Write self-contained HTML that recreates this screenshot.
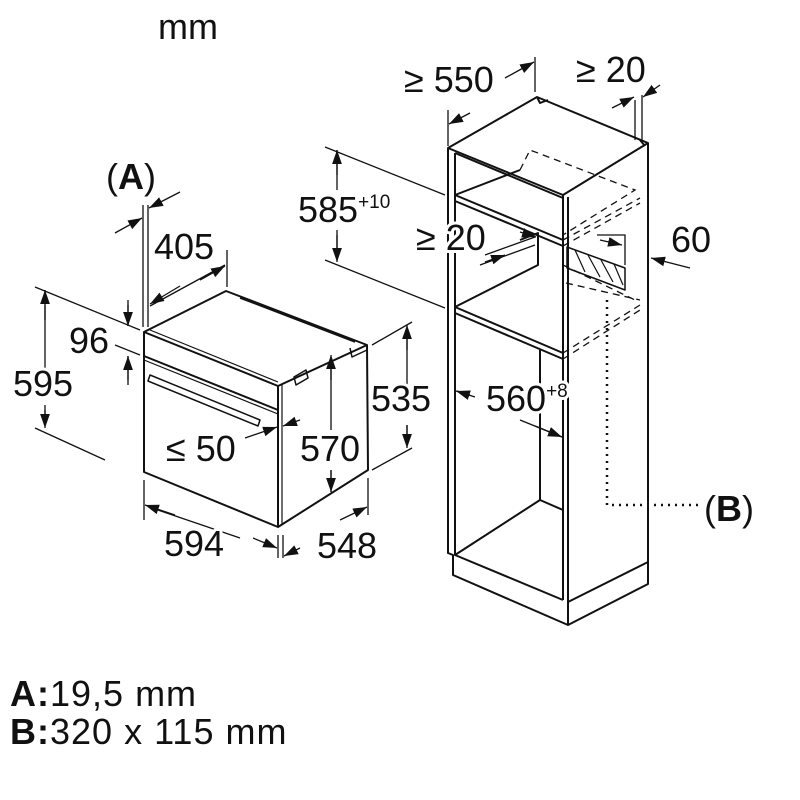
<!DOCTYPE html>
<html><head><meta charset="utf-8"><style>
html,body{margin:0;padding:0;background:#fff}
svg{display:block}
text{font-family:"Liberation Sans",Arial,sans-serif;fill:#111}
</style></head><body>
<svg width="800" height="800" viewBox="0 0 800 800" xmlns="http://www.w3.org/2000/svg">
<defs>
<marker id="b" viewBox="0 0 10 10" refX="10" refY="5" markerWidth="14" markerHeight="14" orient="auto-start-reverse" markerUnits="userSpaceOnUse"><path d="M0,1.5 L10,5 L0,8.5 z" fill="#111"/></marker>
</defs>
<g fill="none" stroke="#111" stroke-width="2" stroke-linejoin="round">
<path d="M144,332 L226,291 L367,345 L368,470 L278,527 L144,472 Z" fill="#fff"/>
<path d="M144,332 L278,386 L367,345"/>
<path d="M278,386 L278,527"/>
<path d="M282,384 L282,525" stroke-width="1.2"/>
<path d="M150,330 L278,382" stroke-width="1.2"/>
<path d="M144,356 L278,410"/>
<path d="M144,360 L278,414" stroke-width="1.2"/>
<path d="M150,375 L260,420 L258,426 L148,381 Z" stroke-width="1.5"/>
<path d="M240,298 L355,342" stroke-width="1.5"/>
<path d="M350,348 L352,357 L367,350" stroke-width="1.5"/>
<path d="M294,377 L306,370 L308,378 L296,385 Z" stroke-width="1.5"/>
<path d="M448,148 L537,97 L648,143 L648,584 L568,625 L453,575 L453,555 L448,553 Z" fill="#fff"/>
<path d="M448,148 L563,195 L648,143"/>
<path d="M563,195 L563,600 M568,197 L568,625"/>
<path d="M455,153 L455,555 L563,600"/>
<path d="M453,575 L453,555 M568,602 L648,562"/>
<path d="M455,153 L563,198"/>
<path d="M455,195 L563,240 M455,201 L563,246"/>
<path d="M455,195 L520,170"/>
<path d="M455,307 L563,353 M455,313 L563,359"/>
<path d="M455,307 L538,265 L538,233 L520,240"/>
<path d="M540,350 L540,500 L563,510 M455,555 L540,500"/>
<path d="M537,97 L540,103 L548,100"/>
<path d="M640,140 L645,146"/>
<path d="M567,247 L625,268 L625,290 L567,268 Z" stroke-width="1.5"/>
<path d="M575,250 L585,272 M588,255 L600,277 M601,260 L613,282 M614,264 L623,285" stroke-width="1.2"/>
</g>
<g fill="none" stroke="#111" stroke-width="1.3" stroke-dasharray="7,5">
<path d="M520,170 L530,150 L635,190 L563,235"/>
<path d="M563,240 L640,198 M563,246 L640,203"/>
<path d="M563,265 L635,300 M563,353 L640,305 M563,359 L640,310"/>
<path d="M566,283 L640,300"/>
</g>
<path d="M607,300 L607,505 L700,505" fill="none" stroke="#111" stroke-width="2.5" stroke-dasharray="2,5"/>
<g fill="none" stroke="#111" stroke-width="1.3">
<path d="M35,287 L140,330 M35,428 L105,460"/>
<path d="M115,345 L140,355"/>
<path d="M143,205 L143,327 M148,205 L148,327"/>
<path d="M227,250 L227,287"/>
<path d="M372,345 L412,322 M372,470 L412,448"/>
<path d="M144,480 L144,520 M278,535 L278,558 M283,535 L283,558 M368,478 L368,515"/>
<path d="M325,147 L445,195 M325,260 L445,308"/>
<path d="M448,110 L448,146 M535,57 L535,92"/>
<path d="M635,100 L635,140 M642,95 L642,140"/>
<path d="M597,235 L625,235 L625,265"/>
<path d="M485,255 L535,237 M480,265 L535,245"/>
<path d="M45,305 L45,370 M45,405 L45,425" />
<path d="M128,300 L128,326 M128,385 L128,356"/>
<path d="M150,306 L225,265"/>
<path d="M407,330 L407,385 M407,425 L407,445"/>
<path d="M331,357 L331,430 M331,470 L331,492"/>
<path d="M152,508 L240,538"/>
<path d="M337,150 L337,190 M337,230 L337,260"/>
<path d="M470,395 L457,391 M520,420 L562,437"/>
</g>
<g fill="none" stroke="#111" stroke-width="1.3" marker-end="url(#b)">
<path d="M45,320 L45,290"/><path d="M45,410 L45,428"/>
<path d="M128,305 L128,326"/><path d="M128,380 L128,356"/>
<path d="M115,233 L142,218"/><path d="M180,192 L149,208"/>
<path d="M180,286 L150,304"/><path d="M200,280 L225,266"/>
<path d="M407,350 L407,325"/><path d="M407,425 L407,448"/>
<path d="M331,380 L331,355"/><path d="M331,470 L331,492"/>
<path d="M245,438 L277,427"/><path d="M300,420 L283,426"/>
<path d="M175,515 L145,505"/><path d="M253,538 L277,548"/>
<path d="M300,548 L284,556"/><path d="M340,520 L367,507"/>
<path d="M337,175 L337,150"/><path d="M337,235 L337,262"/>
<path d="M470,113 L449,124"/><path d="M505,78 L534,62"/>
<path d="M612,108 L634,97"/><path d="M660,85 L643,97"/>
<path d="M690,268 L651,258"/>
<path d="M475,397 L456,391"/><path d="M535,426 L562,437"/>
<path d="M600,240 L622,245"/>
<path d="M485,262 L505,255"/><path d="M520,232 L536,237"/>
</g>
<g font-size="36" stroke="#fff" stroke-width="6" paint-order="stroke" stroke-linejoin="round">
<text x="158" y="39" stroke="none">mm</text>
<text x="404" y="92">≥ 550</text>
<text x="576" y="82">≥ 20</text>
<text x="106" y="189">(<tspan font-weight="bold">A</tspan>)</text>
<text x="154" y="259">405</text>
<text x="298" y="222">585<tspan font-size="19" dy="-14">+10</tspan></text>
<text x="416" y="250">≥ 20</text>
<text x="671" y="252">60</text>
<text x="69" y="353">96</text>
<text x="13" y="396">595</text>
<text x="371" y="411">535</text>
<text x="486" y="411">560<tspan font-size="19" dy="-14">+8</tspan></text>
<text x="166" y="461">≤ 50</text>
<text x="300" y="461">570</text>
<text x="704" y="521">(<tspan font-weight="bold">B</tspan>)</text>
<text x="164" y="556">594</text>
<text x="317" y="558">548</text>
<text x="10" y="706" stroke="none" letter-spacing="1"><tspan font-weight="bold">A:</tspan>19,5 mm</text>
<text x="10" y="744" stroke="none" letter-spacing="1"><tspan font-weight="bold">B:</tspan>320 x 115 mm</text>
</g>
</svg>
</body></html>
